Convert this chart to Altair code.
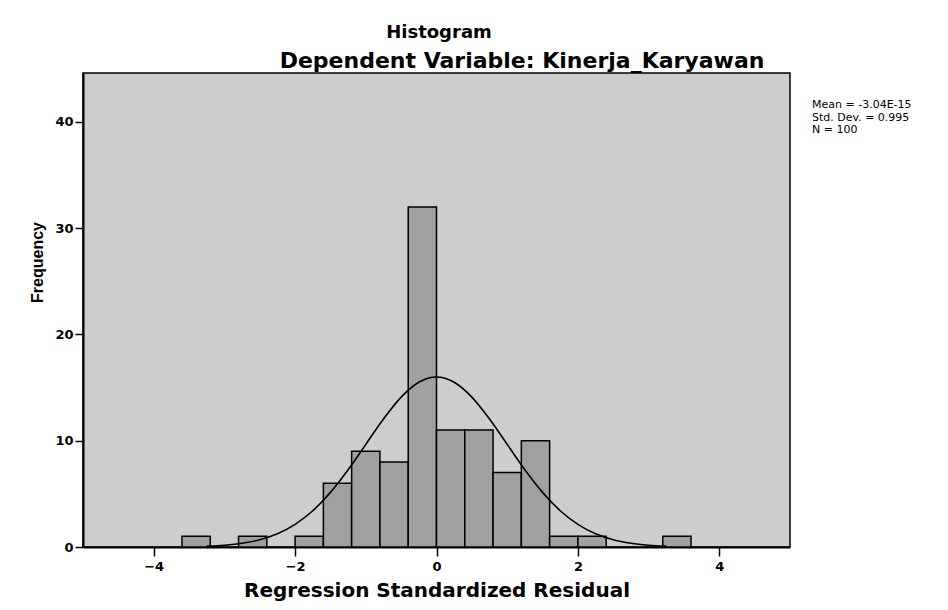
import altair as alt
import pandas as pd

# Histogram bins (left edges), bin width and frequencies
bin_start = [-3.6, -2.8, -2.0, -1.6, -1.2, -0.8, -0.4, 0.0, 0.4, 0.8, 1.2, 1.6, 2.0, 3.2]
bin_width = 0.4
counts = [1, 1, 1, 6, 9, 8, 32, 11, 11, 7, 10, 1, 1, 1]

# Normal curve
curve_x = [-3.25, -3.0, -2.75, -2.5, -2.25, -2.0, -1.75, -1.5, -1.25, -1.0, -0.75, -0.5, -0.25, 0.0,
           0.25, 0.5, 0.75, 1.0, 1.25, 1.5, 1.75, 2.0, 2.25, 2.5, 2.75, 3.0, 3.25]
curve_y = [0.08, 0.17, 0.35, 0.68, 1.24, 2.13, 3.41, 5.14, 7.27, 9.66, 12.04, 14.1, 15.5, 16.0,
           15.5, 14.1, 12.04, 9.66, 7.27, 5.14, 3.41, 2.13, 1.24, 0.68, 0.35, 0.17, 0.08]

x_ticks = [-4, -2, 0, 2, 4]
y_ticks = [0, 10, 20, 30, 40]

title_text = "Histogram"
subtitle_text = "Dependent Variable: Kinerja_Karyawan"
stats_lines = ["Mean = -3.04E-15", "Std. Dev. = 0.995", "N = 100"]

W, H = 707, 474
FONT = "DejaVu Sans"

bars_df = pd.DataFrame({
    "start": bin_start,
    "end": [b + bin_width for b in bin_start],
    "count": counts,
})
curve_df = pd.DataFrame({"x": curve_x, "y": curve_y})

xscale = alt.Scale(domain=[-5, 5], nice=False, zero=False)
yscale = alt.Scale(domain=[0, 44.6], nice=False)

bars = alt.Chart(bars_df).mark_rect(
    fill="#a0a0a0", stroke="black", strokeWidth=1.5
).encode(
    x=alt.X("start:Q", scale=xscale, axis=alt.Axis(
        values=x_ticks, title="Regression Standardized Residual", grid=False,
        domainColor="black", domainWidth=2, tickColor="black", tickWidth=1.5, tickSize=9,
        labelFont=FONT, labelFontWeight="bold", labelFontSize=13, labelColor="black", labelPadding=4,
        titleFont=FONT, titleFontWeight="bold", titleFontSize=20, titleColor="black",
        titleX=W / 2, titleY=49, titleBaseline="alphabetic", titleAlign="center",
        format="d")),
    x2="end:Q",
    y=alt.Y("count:Q", scale=yscale, axis=alt.Axis(
        values=y_ticks, title="Frequency", grid=False,
        domainColor="black", domainWidth=2, tickColor="black", tickWidth=1.5, tickSize=8,
        labelFont=FONT, labelFontWeight="bold", labelFontSize=13, labelColor="black", labelPadding=2,
        titleFont="Liberation Sans", titleFontWeight="bold", titleFontSize=16,
        titleColor="black", titleAngle=270, titleX=-46, titleY=189,
        titleAlign="center", titleBaseline="middle")),
    y2=alt.datum(0),
)

curve = alt.Chart(curve_df).mark_line(
    color="black", strokeWidth=1.6, interpolate="monotone"
).encode(x=alt.X("x:Q", scale=xscale), y=alt.Y("y:Q", scale=yscale))

title_df = pd.DataFrame({"t": [title_text]})
title_mark = alt.Chart(title_df).mark_text(
    font=FONT, fontWeight="bold", fontSize=18, color="black", align="center", baseline="middle"
).encode(text="t:N", x=alt.value(356), y=alt.value(-40))

sub_df = pd.DataFrame({"t": [subtitle_text]})
sub_mark = alt.Chart(sub_df).mark_text(
    font=FONT, fontWeight="bold", fontSize=22, color="black", align="center", baseline="middle"
).encode(text="t:N", x=alt.value(439), y=alt.value(-12))

stats_df = pd.DataFrame({"t": stats_lines, "i": [0, 1, 2]})
stats_mark = alt.Chart(stats_df).transform_calculate(
    py="32 + datum.i * 12.5"
).mark_text(
    font=FONT, fontSize=11, color="black", align="left", baseline="middle"
).encode(text="t:N", x=alt.value(729), y=alt.Y("py:Q", scale=None))

chart = alt.layer(bars, curve, title_mark, sub_mark, stats_mark).properties(
    width=W, height=H,
    autosize=alt.AutoSizeParams(type="none"),
    padding={"left": 75, "top": 65, "right": 150, "bottom": 55},
    background="white",
).configure_view(
    fill="#cdcdcd", stroke="black", strokeWidth=1.5
)

chart.save("out.html", embed_options={"renderer": "svg", "actions": False})
